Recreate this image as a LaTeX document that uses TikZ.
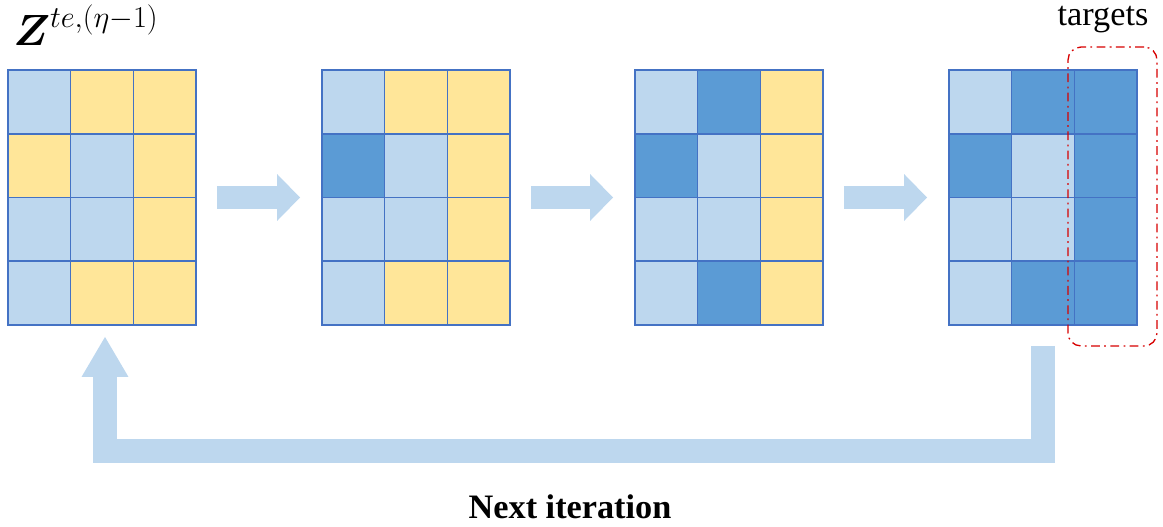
\documentclass[tikz,border=0pt]{standalone}
\usepackage{amsmath, amssymb}
\usepackage{fontspec}
\setmainfont{Liberation Serif}
\usetikzlibrary{arrows.meta, positioning, calc}
\definecolor{lightcell}{HTML}{BDD7EE}
\definecolor{yellowcell}{HTML}{FFE699}
\definecolor{darkcell}{HTML}{5B9BD5}
\definecolor{cellline}{HTML}{4472C4}
\definecolor{arrowblue}{HTML}{BDD7EE}
\definecolor{targetred}{RGB}{215,0,0}
\tikzset{
  cell/.style={draw=cellline, line width=0.85pt, minimum width=1.2533cm, minimum height=1.275cm, inner sep=0pt, outer sep=0pt},
  lb/.style={cell, fill=lightcell},
  ye/.style={cell, fill=yellowcell},
  db/.style={cell, fill=darkcell},
  gridframe/.style={rectangle, minimum width=3.76cm, minimum height=5.1cm, inner sep=0pt, outer sep=0pt},
  flowarrow/.style={draw=arrowblue, line width=0.46cm, -{Triangle[length=0.46cm, width=0.94cm, line width=0pt]}},
  backarrow/.style={draw=arrowblue, line width=0.48cm, -{Triangle[length=0.8cm, width=0.94cm, line width=0pt]}},
  targetbox/.style={draw=targetred, line width=0.75pt, rounded corners=0.26cm, dash pattern=on 5pt off 2.5pt on 1pt off 2.5pt, minimum width=1.78cm, minimum height=5.98cm, inner sep=0pt},
  label/.style={font=\fontsize{19.5}{23}\selectfont, inner sep=0pt, text height=0.7em, text depth=0.22em},
}
% one 4x3 matrix: name, left edge, row styles
\newcommand{\matgrid}[3]{%
  \node[gridframe] (#1) at (#2+94,197.5) {};
  \foreach \r/\a/\b/\c in {#3} {
    \node[\a] (#1-\r-1) at (#2+31.33, 70+\r*63.75-31.875) {};
    \node[\b] (#1-\r-2) at (#2+94, 70+\r*63.75-31.875) {};
    \node[\c] (#1-\r-3) at (#2+156.67, 70+\r*63.75-31.875) {};
  }
}

\begin{document}
\begin{tikzpicture}[x=0.02cm, y=-0.02cm]
  \useasboundingbox (0,0) rectangle (1163,527);

  \matgrid{G1}{8}{1/lb/ye/ye, 2/ye/lb/ye, 3/lb/lb/ye, 4/lb/ye/ye}
  \matgrid{G2}{322}{1/lb/ye/ye, 2/db/lb/ye, 3/lb/lb/ye, 4/lb/ye/ye}
  \matgrid{G3}{635}{1/lb/db/ye, 2/db/lb/ye, 3/lb/lb/ye, 4/lb/db/ye}
  \matgrid{G4}{949}{1/lb/db/db, 2/db/lb/db, 3/lb/lb/db, 4/lb/db/db}

  % step arrows
  \draw[flowarrow, shorten <=0.42cm, shorten >=0.44cm] (G1) -- (G2);
  \draw[flowarrow, shorten <=0.42cm, shorten >=0.44cm] (G2) -- (G3);
  \draw[flowarrow, shorten <=0.42cm, shorten >=0.44cm] (G3) -- (G4);

  % feedback to the first matrix
  \draw[backarrow, shorten <=0.42cm, shorten >=0.24cm] (G4.south) -- ++(0,126.5) -| ($(G1.south)+(3,0)$);

  % target column
  \node[targetbox] (T) at (1112.5,196.5) {};
  \node[label, anchor=base] (tlabel) at (1103,26) {targets};

  \node[inner sep=0pt, anchor=base west] (zlabel) at (13,46) {\fontsize{23.5}{28}\selectfont$\boldsymbol{Z}^{te,(\eta-1)}$};
  \node[label, anchor=base] (next) at (570,518) {\textbf{Next iteration}};
\end{tikzpicture}
\end{document}
